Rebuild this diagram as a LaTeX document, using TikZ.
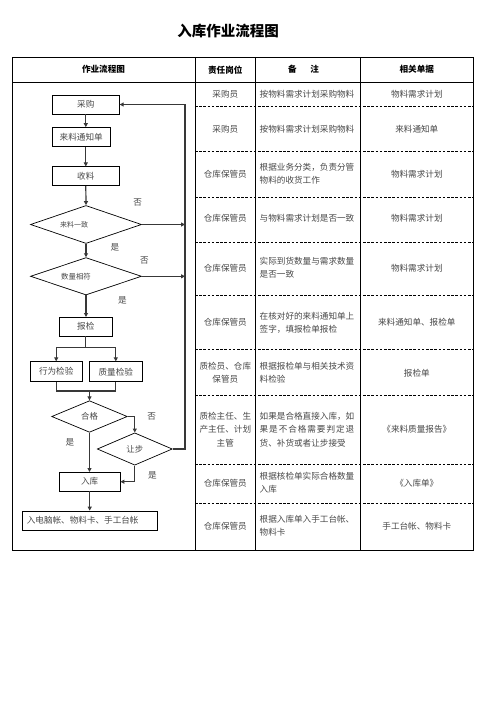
\documentclass[tikz,border=0pt]{standalone}
\usepackage{fontspec}
\setmainfont{Noto Sans CJK SC}
\usetikzlibrary{arrows.meta,shapes.geometric}
\begin{document}
\begin{tikzpicture}[x=1pt,y=-1pt,
  tbl/.style={draw=black, line width=0.9pt},
  dsh/.style={draw=black, line width=0.6pt, dash pattern=on 2.6pt off 1.6pt},
  hdr/.style={font=\fontsize{8.6}{10}\selectfont\bfseries, text=black},
  cell/.style={font=\fontsize{8.6}{13.3}\selectfont, text=black!72, inner sep=0pt, align=center},
  note/.style={font=\fontsize{8.6}{13.3}\selectfont, text=black!72, inner sep=0pt, align=left, anchor=west},
  box/.style={draw=black, line width=0.7pt, minimum width=#1, minimum height=19pt, inner sep=0pt, font=\fontsize{8.6}{10}\selectfont, text=black!72},
  box/.default=60pt,
  dia/.style={diamond, draw=black, line width=0.7pt, inner sep=0pt, minimum width=#1},
  dia/.default=75pt,
  yn/.style={font=\fontsize{8.6}{10}\selectfont, text=black!72, inner sep=0pt},
  con/.style={draw=black!78, line width=1.2pt},
  arr/.style={con, -{Triangle[length=4pt,width=4pt]}}
]
\useasboundingbox (0,0) rectangle (496,702);

% title
\node[font=\fontsize{14.5}{16}\selectfont\bfseries] (title) at (228,31) {入库作业流程图};

% table frame
\draw[tbl] (12,57) rectangle (473,550);
\draw[tbl] (12,82) -- (473,82);
\foreach \x in {195,255.7,360.7} \draw[tbl] (\x,57) -- (\x,550);
\foreach \y in {106,151,197,242,295,349,395,464,503} \draw[dsh] (195,\y) -- (473,\y);

% header
\node[hdr] (h1) at (103.5,69.7) {作业流程图};
\node[hdr] (h2) at (225.3,69.7) {责任岗位};
\node[hdr] (h3) at (303.5,69.7) {备\hspace{1.6em}注};
\node[hdr] (h4) at (416.8,69.7) {相关单据};

% rows: column 2
\node[cell] (a1) at (225.3,94) {采购员};
\node[cell] (a2) at (225.3,129) {采购员};
\node[cell] (a3) at (225.3,174) {仓库保管员};
\node[cell] (a4) at (225.3,218.5) {仓库保管员};
\node[cell] (a5) at (225.3,268) {仓库保管员};
\node[cell] (a6) at (225.3,322.5) {仓库保管员};
\node[cell] (a7) at (225.3,373) {质检员、仓库\\保管员};
\node[cell] (a8) at (225.3,429.5) {质检主任、生\\产主任、计划\\主管};
\node[cell] (a9) at (225.3,483) {仓库保管员};
\node[cell] (a10) at (225.3,526) {仓库保管员};

% column 3
\node[note] (b1) at (259.5,94) {按物料需求计划采购物料};
\node[note] (b2) at (259.5,129) {按物料需求计划采购物料};
\node[note] (b3) at (259.5,174) {根据业务分类，负责分管\\物料的收货工作};
\node[note] (b4) at (259.5,218.5) {与物料需求计划是否一致};
\node[note] (b5) at (259.5,268) {实际到货数量与需求数量\\是否一致};
\node[note] (b6) at (259.5,322.5) {在核对好的来料通知单上\\签字，填报检单报检};
\node[note] (b7) at (259.5,373) {根据报检单与相关技术资\\料检验};
\node[note] (b8) at (259.5,429.5) {如果是合格直接入库，如\\{\addfontfeature{LetterSpace=11}果是不合格需要判定退}\\货、补货或者让步接受};
\node[note] (b9) at (259.5,483) {根据核检单实际合格数量\\入库};
\node[note] (b10) at (259.5,526) {根据入库单入手工台帐、\\物料卡};

% column 4
\node[cell] (c1) at (416.8,94) {物料需求计划};
\node[cell] (c2) at (416.8,129) {来料通知单};
\node[cell] (c3) at (416.8,174) {物料需求计划};
\node[cell] (c4) at (416.8,218.5) {物料需求计划};
\node[cell] (c5) at (416.8,268) {物料需求计划};
\node[cell] (c6) at (416.8,322.5) {来料通知单、报检单};
\node[cell] (c7) at (416.8,373) {报检单};
\node[cell] (c8) at (416.8,429.5) {《来料质量报告》};
\node[cell] (c9) at (416.8,483) {《入库单》};
\node[cell] (c10) at (416.8,526) {手工台帐、物料卡};

% flowchart nodes
\node[box=67pt] (cg) at (85.8,104.5) {采购};
\node[box=57.7pt] (tz) at (81.2,137) {来料通知单};
\node[box=67pt] (sl) at (85.8,176.3) {收料};
\node[dia=111pt, minimum height=38pt,
  label={[font=\fontsize{7}{8}\selectfont, text=black!72, xshift=-12pt]center:来料一致}] (d1) at (86,224.5) {};
\node[dia=111pt, minimum height=37.4pt,
  label={[font=\fontsize{7.4}{8}\selectfont, text=black!72, xshift=-10pt]center:数量相符}] (d2) at (86,276.3) {};
\node[box=53pt, minimum height=18.7pt] (bj) at (85.8,326.7) {报检};
\node[box=52.3pt, minimum height=20pt] (xw) at (56.2,371.7) {行为检验};
\node[box=53pt, minimum height=20pt] (zl) at (115.8,371.7) {质量检验};
\node[dia=75.6pt, minimum height=31.6pt, font=\fontsize{8.4}{10}\selectfont, text=black!72] (d3) at (89.5,416.5) {合格};
\node[dia=75pt, minimum height=32.3pt, font=\fontsize{8.4}{10}\selectfont, text=black!72] (d4) at (134.8,449) {让步};
\node[box=60.7pt, minimum height=18.7pt] (rk) at (89.7,481.7) {入库};
\node[box=135pt, text width=126pt, align=left] (rz) at (89.8,520.5) {入电脑帐、物料卡、手工台帐};

% helper coordinates
\coordinate (rtop) at (185,104.5);
\coordinate (sp) at (85.8,347.3);
\coordinate (jn) at (89.5,391);

% connectors
\draw[arr] (cg.south) -- (cg.south |- tz.north);
\draw[arr] (cg.south |- tz.south) -- (sl.north);
\draw[arr] (sl.south) -- (d1.north);
\draw[arr] (d1.south) -- (d2.north);
\draw[arr] (d2.south) -- (d2.south |- bj.north);
\draw[arr] (d1.east) -- (d1.east -| rtop);
\draw[arr] (d2.east) -- (d2.east -| rtop);
\draw[arr] (d4.east) -- (d4.east -| rtop) -- (rtop) -- (cg.east);
\draw[con] (bj.south) -- (sp);
\draw[con] (sp -| xw) -- (sp -| zl);
\draw[arr] (sp -| xw) -- (xw.north);
\draw[arr] (sp -| zl) -- (zl.north);
\draw[con] (xw.south) -- (xw.south |- jn) -- (zl.south |- jn) -- (zl.south);
\draw[arr] (jn) -- (d3.north);
\draw[arr] (d3.east) -- (d3.east -| d4.north) -- (d4.north);
\draw[arr] (d3.south) -- (d3.south |- rk.north);
\draw[arr] (d4.south) -- (d4.south |- rk.east) -- (rk.east);
\draw[arr] (rk.south) -- (rk.south |- rz.north);

% yes/no labels
\node[yn] (n1) at (137.7,202.3) {否};
\node[yn] (y1) at (115,247.3) {是};
\node[yn] (n2) at (144.3,260.7) {否};
\node[yn] (y2) at (122.3,300) {是};
\node[yn] (n3) at (151.7,416.7) {否};
\node[yn] (y3) at (70,442.3) {是};
\node[yn] (y4) at (152.3,475.7) {是};
\end{tikzpicture}
\end{document}
